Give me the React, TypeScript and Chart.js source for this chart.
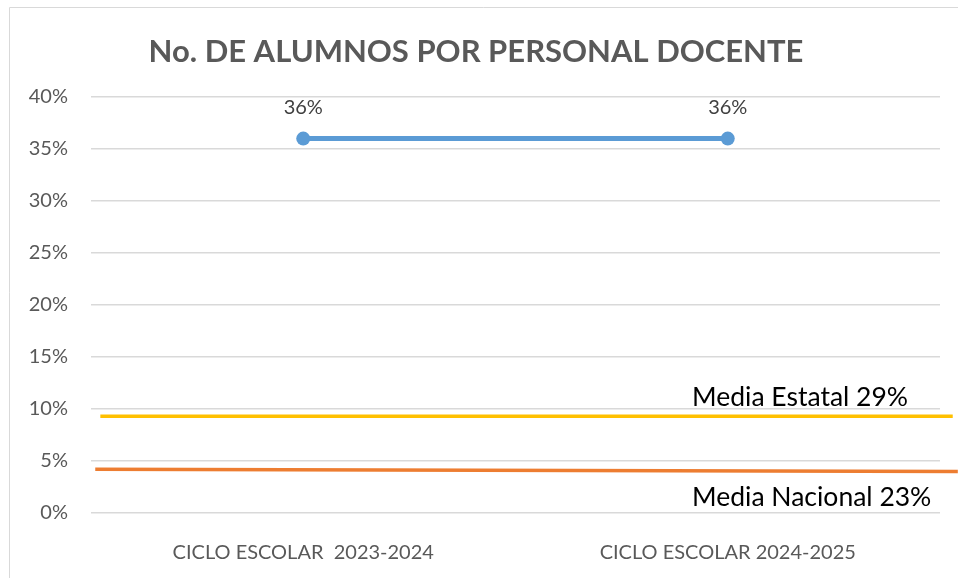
import React, { useEffect, useRef } from "react";
import { Chart, registerables } from "chart.js";

Chart.register(...registerables);

const TITLE = "No. DE ALUMNOS POR PERSONAL DOCENTE";
const categories = ["CICLO ESCOLAR  2023-2024", "CICLO ESCOLAR 2024-2025"];
const docenteValues = [36, 36];
const mediaEstatalValues = [9.3, 9.3];
const mediaNacionalValues = [4.2, 4.0];
const mediaEstatalSpan = [0.011, 1.015];
const mediaNacionalSpan = [0.005, 1.021];
const mediaEstatalLabel = "Media Estatal 29%";
const mediaNacionalLabel = "Media Nacional 23%";
const yTicks = [0, 5, 10, 15, 20, 25, 30, 35, 40];

const FONT = "Lato, 'Open Sans', sans-serif";

export default function App() {
  const ref = useRef<HTMLCanvasElement | null>(null);

  useEffect(() => {
    if (!ref.current) return;
    const decor = {
      id: "decor",
      beforeDraw(chart: any) {
        const ctx = chart.ctx;
        ctx.save();
        ctx.strokeStyle = "#d9d9d9";
        ctx.lineWidth = 1;
        ctx.beginPath();
        ctx.moveTo(9.5, 578);
        ctx.lineTo(9.5, 7.5);
        ctx.lineTo(958, 7.5);
        ctx.stroke();
        ctx.fillStyle = "#595959";
        ctx.font = `bold 31px ${FONT}`;
        ctx.textAlign = "center";
        ctx.textBaseline = "alphabetic";
        ctx.fillText(TITLE, 476, 62);
        ctx.restore();
      },
      afterDatasetsDraw(chart: any) {
        const ctx = chart.ctx;
        ctx.save();
        const meta = chart.getDatasetMeta(0);
        ctx.fillStyle = "#404040";
        ctx.font = `20px ${FONT}`;
        ctx.textAlign = "center";
        ctx.textBaseline = "alphabetic";
        meta.data.forEach((p: any, i: number) => {
          ctx.fillText(docenteValues[i] + "%", p.x, p.y - 25);
        });
        const ca = chart.chartArea;
        const y = chart.scales.y;
        ctx.fillStyle = "#000000";
        ctx.font = `26.5px ${FONT}`;
        ctx.textAlign = "left";
        ctx.fillText(mediaEstatalLabel, ca.right - 248, y.getPixelForValue(mediaEstatalValues[1]) - 10);
        ctx.fillText(mediaNacionalLabel, ca.right - 248, y.getPixelForValue(mediaNacionalValues[1]) + 35);
        ctx.restore();
      },
    };

    const chart = new Chart(ref.current, {
      type: "line",
      data: {
        labels: categories,
        datasets: [
          {
            label: "Docente",
            data: docenteValues,
            borderColor: "#5b9bd5",
            backgroundColor: "#5b9bd5",
            borderWidth: 5,
            pointRadius: 7,
            pointBorderWidth: 0,
            xAxisID: "x",
            order: 0,
          },
          {
            label: "Media Estatal",
            data: mediaEstatalSpan.map((x, i) => ({ x, y: mediaEstatalValues[i] })),
            borderColor: "#ffc000",
            borderWidth: 3.5,
            pointRadius: 0,
            xAxisID: "x2",
            clip: false,
            order: 1,
          },
          {
            label: "Media Nacional",
            data: mediaNacionalSpan.map((x, i) => ({ x, y: mediaNacionalValues[i] })),
            borderColor: "#ed7d31",
            borderWidth: 3.5,
            pointRadius: 0,
            xAxisID: "x2",
            clip: false,
            order: 1,
          },
        ] as any,
      },
      options: {
        animation: false,
        responsive: true,
        maintainAspectRatio: false,
        layout: { padding: { top: 97, right: 18, left: 0, bottom: 0 } },
        plugins: {
          legend: { display: false },
          title: { display: false },
          tooltip: { enabled: false },
        },
        scales: {
          x: {
            type: "category",
            offset: true,
            grid: { display: false },
            border: { display: false },
            ticks: { color: "#595959", font: { family: FONT, size: 20 }, padding: 20, maxRotation: 0 },
            afterFit(s: any) {
              s.height = 65;
            },
          },
          x2: {
            type: "linear",
            display: false,
            min: 0,
            max: 1,
          },
          y: {
            min: 0,
            max: 40,
            afterBuildTicks(s: any) {
              s.ticks = yTicks.map((v) => ({ value: v }));
            },
            grid: { color: "#d9d9d9", lineWidth: 1.5, drawTicks: false },
            border: { display: false },
            ticks: {
              color: "#595959",
              font: { family: FONT, size: 20 },
              padding: 23,
              callback: (v: any) => v + "%",
            },
            afterFit(s: any) {
              s.width = 91;
            },
          },
        } as any,
      },
      plugins: [decor],
    });
    return () => chart.destroy();
  }, []);

  return (
    <div style={{ position: "absolute", left: 0, top: 0, width: 958, height: 578, background: "#fff" }}>
      <canvas ref={ref} />
    </div>
  );
}
